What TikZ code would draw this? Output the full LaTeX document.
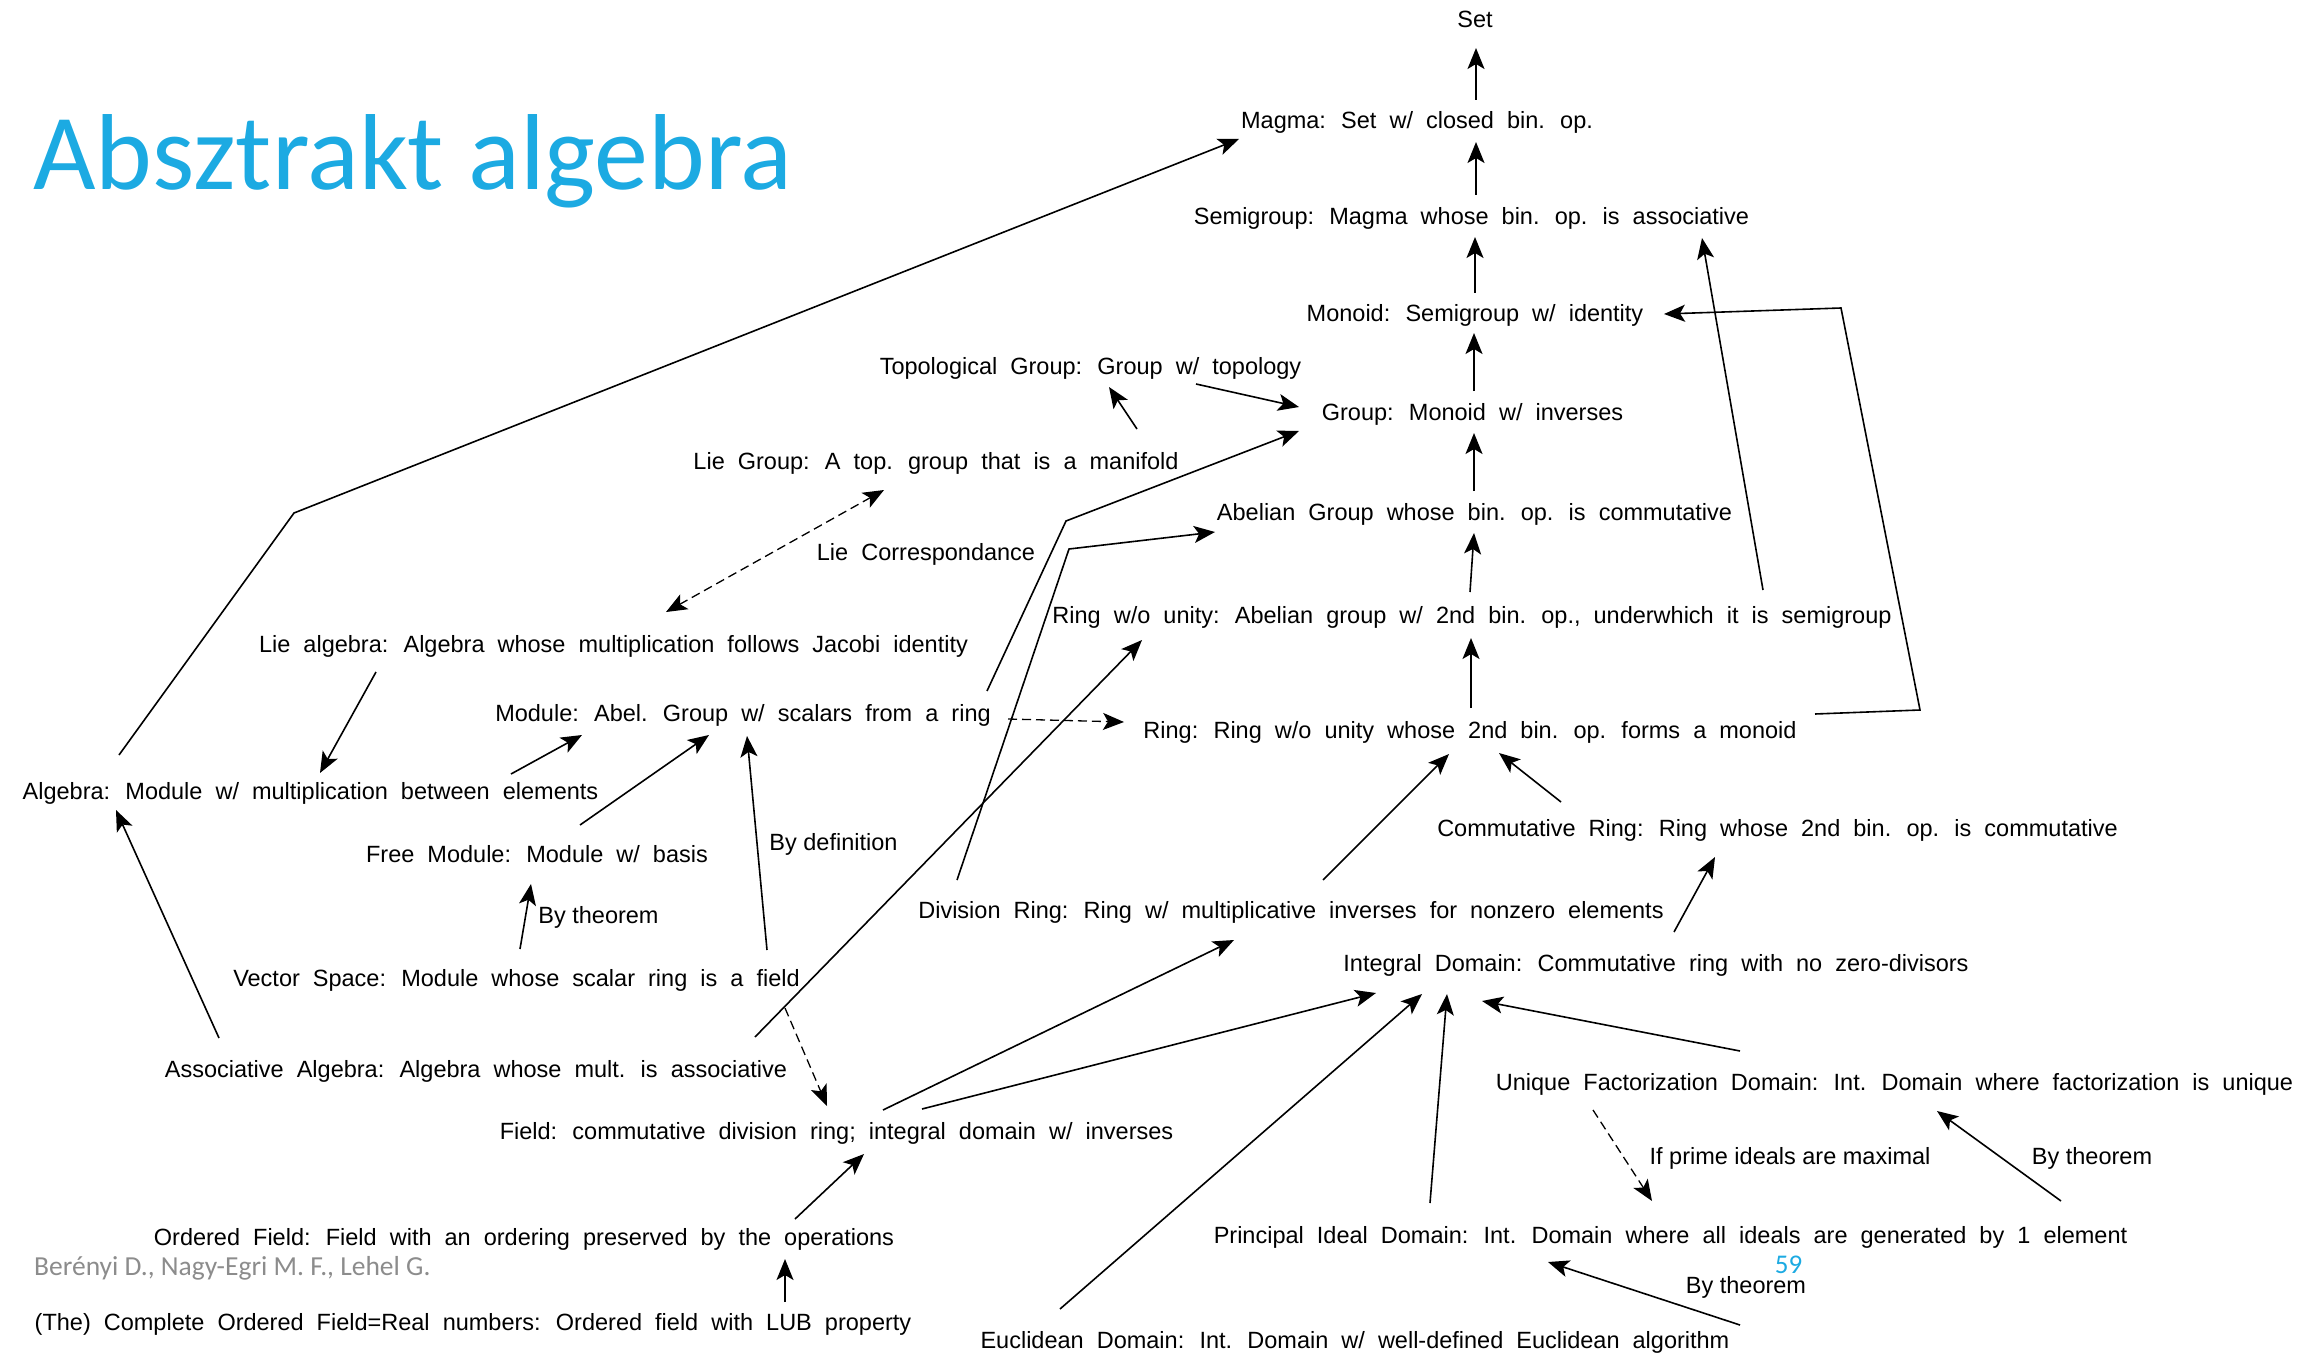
\documentclass[tikz,border=0pt]{standalone}
\usepackage{fontspec}
\setmainfont{Liberation Sans}
\newfontfamily\nodefont[WordSpace=2.0]{Liberation Sans}
\newfontfamily\titlefont{Carlito}
\usetikzlibrary{arrows.meta}
\definecolor{titleblue}{RGB}{28,170,226}
\definecolor{authorgray}{RGB}{140,140,140}
\tikzset{
  concept/.style={anchor=base, inner sep=0pt, font=\nodefont\fontsize{23.5}{28}\selectfont},
  lbl/.style={anchor=base, inner sep=0pt, font=\fontsize{23.5}{28}\selectfont},
  arr/.style={line width=1.6pt, -{Stealth[length=21pt,width=17pt,inset=5pt]}},
  darr/.style={arr, line width=1.3pt, dash pattern=on 9pt off 5pt},
  ddarr/.style={line width=1.3pt, dash pattern=on 9pt off 5pt, {Stealth[length=21pt,width=17pt,inset=5pt]}-{Stealth[length=21pt,width=17pt,inset=5pt]}},
}
\begin{document}
\begin{tikzpicture}[x=1pt,y=-1pt]
\useasboundingbox (0,0) rectangle (2323,1356);
% title, author, page
\node[anchor=base west, inner sep=0pt, text=titleblue, font=\titlefont\fontsize{108}{120}\selectfont] (title) at (33,190) {Absztrakt algebra};
\node[anchor=base west, inner sep=0pt, text=authorgray, font=\titlefont\fontsize{27.5}{30}\selectfont] (author) at (34,1275) {Berényi D., Nagy-Egri M. F., Lehel G.};
\node[anchor=base, inner sep=0pt, text=titleblue, font=\titlefont\fontsize{27}{30}\selectfont] (pagenum) at (1788.5,1273) {59};
% concepts
\node[concept] (set) at (1475,28) {Set};
\node[concept] (magma) at (1417,129) {Magma: Set w/ closed bin. op.};
\node[concept] (semigroup) at (1471.5,225) {Semigroup: Magma whose bin. op. is associative};
\node[concept] (monoid) at (1475,321) {Monoid: Semigroup w/ identity};
\node[concept] (topgroup) at (1090.5,374) {Topological Group: Group w/ topology};
\node[concept] (group) at (1472.5,420) {Group: Monoid w/ inverses};
\node[concept] (liegroup) at (936,469) {Lie Group: A top. group that is a manifold};
\node[concept] (abelian) at (1474.5,520) {Abelian Group whose bin. op. is commutative};
\node[concept] (liecorr) at (926,560) {Lie Correspondance};
\node[concept] (ringwo) at (1472,623) {Ring w/o unity: Abelian group w/ 2nd bin. op., underwhich it is semigroup};
\node[concept] (liealg) at (613.5,652) {Lie algebra: Algebra whose multiplication follows Jacobi identity};
\node[concept] (module) at (743,721) {Module: Abel. Group w/ scalars from a ring};
\node[concept] (ring) at (1470,738) {Ring: Ring w/o unity whose 2nd bin. op. forms a monoid};
\node[concept] (algebra) at (310.5,799) {Algebra: Module w/ multiplication between elements};
\node[concept] (commring) at (1777.5,836) {Commutative Ring: Ring whose 2nd bin. op. is commutative};
\node[concept] (freemod) at (537,862) {Free Module: Module w/ basis};
\node[lbl] (bydef) at (833.5,850) {By definition};
\node[lbl] (bythm1) at (598.5,923) {By theorem};
\node[concept] (divring) at (1291,918) {Division Ring: Ring w/ multiplicative inverses for nonzero elements};
\node[concept] (intdom) at (1656,971) {Integral Domain: Commutative ring with no zero-divisors};
\node[concept] (vecspace) at (516.5,986) {Vector Space: Module whose scalar ring is a field};
\node[concept] (assocalg) at (476,1077) {Associative Algebra: Algebra whose mult. is associative};
\node[concept] (ufd) at (1894.5,1090) {Unique Factorization Domain: Int. Domain where factorization is unique};
\node[concept] (field) at (836.5,1139) {Field: commutative division ring; integral domain w/ inverses};
\node[lbl] (ifprime) at (1790,1164) {If prime ideals are maximal};
\node[lbl] (bythm2) at (2092,1164) {By theorem};
\node[concept] (pid) at (1670.5,1243) {Principal Ideal Domain: Int. Domain where all ideals are generated by 1 element};
\node[concept] (ordfield) at (524,1245) {Ordered Field: Field with an ordering preserved by the operations};
\node[lbl] (bythm3) at (1746,1293) {By theorem};
\node[concept] (complete) at (473,1330) {(The) Complete Ordered Field=Real numbers: Ordered field with LUB property};
\node[concept] (euclid) at (1355,1348) {Euclidean Domain: Int. Domain w/ well-defined Euclidean algorithm};
% bend points
\coordinate (c1) at (294,513);
\coordinate (c2) at (1066,521);
\coordinate (c3) at (1069,549);
\coordinate (c4) at (1920,710);
\coordinate (c5) at (1841,308);
% connectors
\draw[arr] ([shift={(59,-29)}]magma.base) -- ([shift={(1,20)}]set.base);
\draw[arr] ([shift={(4.5,-30)}]semigroup.base) -- ([shift={(59,13)}]magma.base);
\draw[arr] ([shift={(0,-28)}]monoid.base) -- ([shift={(3.5,12)}]semigroup.base);
\draw[arr] ([shift={(1.5,-29)}]group.base) -- ([shift={(-1,12)}]monoid.base);
\draw[arr] ([shift={(-0.5,-29)}]abelian.base) -- ([shift={(1.5,13)}]group.base);
\draw[arr] ([shift={(-2,-31)}]ringwo.base) -- ([shift={(-0.5,13)}]abelian.base);
\draw[arr] ([shift={(1,-30)}]ring.base) -- ([shift={(-1,15)}]ringwo.base);
\draw[arr] ([shift={(105.5,10)}]topgroup.base) -- ([shift={(-173.5,-13)}]group.base);
\draw[arr] ([shift={(201,-40)}]liegroup.base) -- ([shift={(18.5,13)}]topgroup.base);
\draw[ddarr] ([shift={(52.5,-40)}]liealg.base) -- ([shift={(-52,21)}]liegroup.base);
\draw[arr] ([shift={(-237.5,20)}]liealg.base) -- ([shift={(9.5,-26)}]algebra.base);
\draw[arr] ([shift={(-191.5,-44)}]algebra.base) -- (c1) -- ([shift={(-178,10)}]magma.base);
\draw[arr] ([shift={(200.5,-25)}]algebra.base) -- ([shift={(-161,14)}]module.base);
\draw[arr] ([shift={(43,-37)}]freemod.base) -- ([shift={(-34,14)}]module.base);
\draw[arr] ([shift={(250.5,-36)}]vecspace.base) -- ([shift={(4,15)}]module.base);
\draw[arr] ([shift={(3.5,-37)}]vecspace.base) -- ([shift={(-6,22)}]freemod.base);
\draw[arr] ([shift={(-257,-39)}]assocalg.base) -- ([shift={(-194.5,11)}]algebra.base);
\draw[arr] ([shift={(244,-30)}]module.base) -- (c2) -- ([shift={(-173.5,11)}]group.base);
\draw[arr] ([shift={(-334,-38)}]divring.base) -- (c3) -- ([shift={(-259.5,12)}]abelian.base);
\draw[darr] ([shift={(265,-2)}]module.base) -- ([shift={(-346,-16)}]ring.base);
\draw[arr] ([shift={(279,-40)}]assocalg.base) -- ([shift={(-330,17)}]ringwo.base);
\draw[darr] ([shift={(268.5,22)}]vecspace.base) -- ([shift={(-9.5,-33)}]field.base);
\draw[arr] ([shift={(46.5,-29)}]field.base) -- ([shift={(-57,22)}]divring.base);
\draw[arr] ([shift={(85.5,-30)}]field.base) -- ([shift={(-280,22)}]intdom.base);
\draw[arr] ([shift={(271,-26)}]ordfield.base) -- ([shift={(27.5,15)}]field.base);
\draw[arr] ([shift={(312,-28)}]complete.base) -- ([shift={(261,14)}]ordfield.base);
\draw[arr] ([shift={(-295,-39)}]euclid.base) -- ([shift={(-234,23)}]intdom.base);
\draw[arr] ([shift={(-240.5,-40)}]pid.base) -- ([shift={(-209,23)}]intdom.base);
\draw[arr] ([shift={(-154.5,-39)}]ufd.base) -- ([shift={(-174,30)}]intdom.base);
\draw[darr] ([shift={(-301.5,20)}]ufd.base) -- ([shift={(-18.5,-42)}]pid.base);
\draw[arr] ([shift={(390.5,-42)}]pid.base) -- ([shift={(42.5,21)}]ufd.base);
\draw[arr] ([shift={(385,-23)}]euclid.base) -- ([shift={(-122.5,19)}]pid.base);
\draw[arr] ([shift={(18,-39)}]intdom.base) -- ([shift={(-62.5,21)}]commring.base);
\draw[arr] ([shift={(-216.5,-34)}]commring.base) -- ([shift={(29,15)}]ring.base);
\draw[arr] ([shift={(32,-38)}]divring.base) -- ([shift={(-21,16)}]ring.base);
\draw[arr] ([shift={(291,-33)}]ringwo.base) -- ([shift={(230.5,13)}]semigroup.base);
\draw[arr] ([shift={(345,-24)}]ring.base) -- (c4) -- (c5) -- ([shift={(189,-7)}]monoid.base);
\end{tikzpicture}
\end{document}
